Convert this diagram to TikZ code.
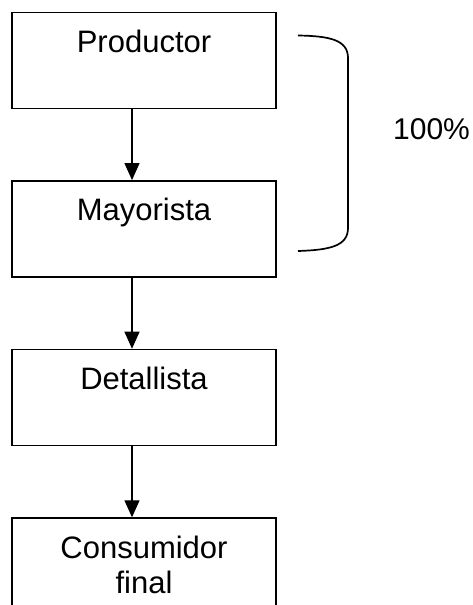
\documentclass[tikz,border=0pt]{standalone}
\usepackage{fontspec}
\setmainfont{Liberation Sans}
\usetikzlibrary{positioning,arrows.meta}

\begin{document}
\begin{tikzpicture}[x=1pt,y=-1pt,node distance=71pt,
    box/.style={draw,line width=1.6pt,minimum width=264pt,inner sep=0pt,
        text height=40pt,text depth=56pt,align=center,
        font=\fontsize{31}{35}\selectfont},
    flow/.style={-{Triangle[length=17pt,width=15pt]},line width=1.2pt}]
    \useasboundingbox (0,0) rectangle (473,605);
    \node[box] (prod) at (144,60.3) {Productor};
    \node[box,below=of prod] (mayo) {Mayorista};
    \node[box,below=of mayo] (det) {Detallista};
    \node[box,below=of det,text height=75pt,text depth=21pt] (cons) {Consumidor\\final};
    \draw[flow] ([xshift=-12pt]prod.south) -- ([xshift=-12pt]mayo.north);
    \draw[flow] ([xshift=-12pt]mayo.south) -- ([xshift=-12pt]det.north);
    \draw[flow] ([xshift=-12pt]det.south) -- ([xshift=-12pt]cons.north);
    % llave
    \coordinate (bt) at (298,35.5);
    \coordinate (bb) at (298,251);
    \draw[line width=1.7pt] (bt) .. controls (330,36) and (348,40) .. (348,58)
        -- (348,228) .. controls (348,246) and (330,250) .. (bb);
    \node[anchor=base west,inner sep=0pt,font=\fontsize{30}{35}\selectfont] (pct) at (393,139) {100\%};
\end{tikzpicture}
\end{document}
